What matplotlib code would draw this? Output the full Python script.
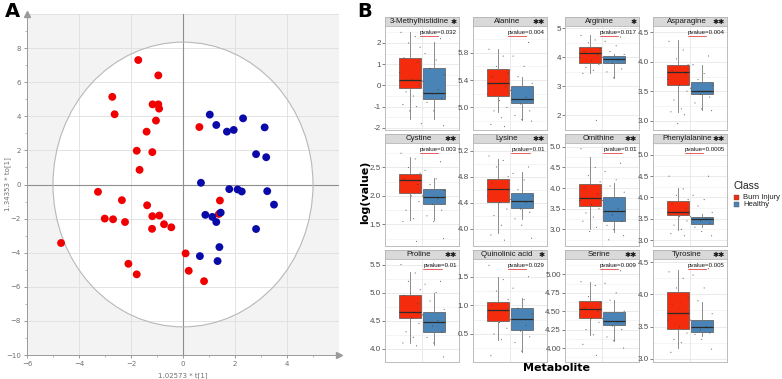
import numpy as np
import matplotlib
matplotlib.use("Agg")
import matplotlib.pyplot as plt
from matplotlib.patches import Ellipse, Rectangle
from matplotlib.lines import Line2D

W, H = 782, 379

# ---- panel A: OPLS-DA scores (t[1], to[1])
burn_t1 = [-1.72, -0.95, -2.72, -2.63, -1.17, -0.95, -0.92, -1.04, -1.40, -1.78, -1.18, -1.67, 0.63,
           -3.27, -2.35, -1.38, -3.01, -2.69, -2.23, -1.18, -0.91, -1.19, -0.73, -0.45, -4.69,
           -2.10, -1.78, 0.10, 0.22, 0.81, 1.42, 1.38]
burn_to1 = [7.3, 6.4, 5.14, 4.12, 4.7, 4.7, 4.45, 3.75, 3.1, 1.98, 1.9, 0.86, 3.37,
            -0.43, -0.92, -1.22, -2.0, -2.04, -2.2, -1.86, -1.82, -2.6, -2.33, -2.51, -3.43,
            -4.65, -5.27, -4.04, -5.06, -5.67, -0.94, -1.73]
healthy_t1 = [1.03, 1.28, 1.69, 1.95, 2.31, 3.14, 2.81, 3.2, 0.69, 1.78, 2.1, 2.26, 3.24, 3.5,
              0.86, 1.13, 1.28, 1.45, 2.81, 1.4, 1.33, 0.65]
healthy_to1 = [4.1, 3.49, 3.1, 3.2, 3.88, 3.35, 1.78, 1.6, 0.1, -0.27, -0.29, -0.41, -0.39, -1.18,
               -1.78, -1.9, -2.2, -1.65, -2.61, -3.67, -4.49, -4.2]

# ---- panel B: boxplots per metabolite
metabolites = ['3-Methylhistidine', 'Alanine', 'Arginine', 'Asparagine',
               'Cystine', 'Lysine', 'Ornithine', 'Phenylalanine',
               'Proline', 'Quinolinic acid', 'Serine', 'Tyrosine']
pvalues = ['0.032', '0.004', '0.017', '0.004', '0.003', '0.01', '0.01', '0.0005',
           '0.01', '0.029', '0.009', '0.005']
stars = [1, 2, 1, 2, 2, 2, 2, 2, 2, 1, 2, 2]
# whislo, q1, median, q3, whishi
burn_box = [(-1.6, -0.11, 0.27, 1.27, 2.5), (4.94, 5.16, 5.35, 5.56, 5.86),
            (3.45, 3.82, 4.14, 4.37, 4.77), (3.15, 3.60, 3.83, 3.94, 4.38),
            (1.58, 2.06, 2.28, 2.39, 2.69), (3.93, 4.41, 4.61, 4.77, 5.08),
            (3.0, 3.57, 3.77, 4.10, 4.76), (3.24, 3.58, 3.66, 3.92, 4.22),
            (4.10, 4.55, 4.66, 4.95, 5.37), (0.40, 0.72, 0.92, 1.06, 1.49),
            (4.18, 4.41, 4.53, 4.64, 4.90), (3.16, 3.46, 3.71, 4.03, 4.38)]
healthy_box = [(-1.6, -0.66, -0.34, 0.81, 2.05), (4.81, 5.07, 5.12, 5.31, 5.44),
               (3.3, 3.80, 3.94, 4.05, 4.12), (3.18, 3.46, 3.51, 3.66, 3.94),
               (1.57, 1.86, 1.98, 2.12, 2.32), (4.15, 4.32, 4.42, 4.55, 4.87),
               (2.94, 3.21, 3.45, 3.79, 4.13), (3.30, 3.38, 3.50, 3.55, 3.62),
               (4.06, 4.30, 4.48, 4.65, 5.0), (0.19, 0.57, 0.76, 0.95, 1.13),
               (4.10, 4.31, 4.37, 4.49, 4.65), (3.36, 3.41, 3.50, 3.60, 3.88)]
burn_pts = [
    [2.5, 2.3, 2.0, 1.8, 1.3, 1.1, 0.6, 0.3, 0.0, -0.3, -0.5, -0.9, -1.0, -1.2, -1.8],
    [5.85, 5.75, 5.6, 5.5, 5.45, 5.3, 5.2, 5.1, 5.0, 4.95, 4.85, 4.75, 4.72],
    [4.75, 4.6, 4.5, 4.3, 4.2, 4.1, 4.0, 3.9, 3.75, 3.65, 3.55, 3.45, 1.83],
    [4.35, 4.2, 4.05, 3.95, 3.85, 3.8, 3.7, 3.6, 3.5, 3.35, 3.2, 3.15, 3.1, 2.95],
    [2.75, 2.65, 2.5, 2.4, 2.3, 2.2, 2.1, 2.0, 1.9, 1.75, 1.6, 1.55, 1.2],
    [5.12, 5.05, 4.95, 4.8, 4.7, 4.6, 4.5, 4.4, 4.3, 4.2, 4.05, 3.9, 3.82],
    [4.95, 4.5, 4.3, 4.15, 4.0, 3.85, 3.7, 3.6, 3.5, 3.4, 3.3, 3.2, 3.05, 2.95],
    [4.5, 4.2, 4.05, 3.95, 3.85, 3.75, 3.65, 3.55, 3.45, 3.35, 3.25, 3.15, 3.1],
    [5.5, 5.35, 5.2, 5.05, 4.95, 4.8, 4.65, 4.55, 4.45, 4.3, 4.2, 4.1, 4.05],
    [1.7, 1.45, 1.25, 1.1, 1.0, 0.9, 0.8, 0.7, 0.6, 0.5, 0.4, 0.12],
    [4.9, 4.85, 4.7, 4.62, 4.55, 4.5, 4.45, 4.4, 4.35, 4.25, 4.18, 4.05, 3.9],
    [4.35, 4.25, 4.1, 3.95, 3.85, 3.7, 3.6, 3.5, 3.4, 3.3, 3.25, 3.1],
]
healthy_pts = [
    [2.2, 1.5, 1.2, 0.8, 0.5, 0.2, -0.2, -0.4, -0.6, -0.8, -1.2, -1.9],
    [5.95, 5.75, 5.6, 5.45, 5.35, 5.25, 5.15, 5.05, 4.95, 4.88, 4.82, 4.8],
    [4.7, 4.55, 4.4, 4.2, 4.1, 4.0, 3.9, 3.8, 3.6, 3.5, 3.3],
    [4.1, 3.95, 3.8, 3.7, 3.6, 3.55, 3.5, 3.45, 3.4, 3.3, 3.2, 3.17],
    [2.6, 2.45, 2.3, 2.2, 2.1, 2.0, 1.95, 1.85, 1.75, 1.65, 1.55, 1.25],
    [4.95, 4.85, 4.75, 4.6, 4.5, 4.45, 4.4, 4.3, 4.25, 4.15, 4.05, 3.85],
    [4.6, 4.4, 4.2, 4.05, 3.9, 3.7, 3.5, 3.35, 3.2, 3.1, 3.0, 2.85, 2.75],
    [4.5, 4.05, 3.95, 3.8, 3.65, 3.55, 3.5, 3.45, 3.4, 3.3, 3.2, 3.1],
    [5.2, 5.15, 5.0, 4.85, 4.7, 4.6, 4.5, 4.4, 4.3, 4.2, 4.1, 3.85],
    [1.5, 1.3, 1.1, 0.95, 0.85, 0.75, 0.65, 0.55, 0.45, 0.35, 0.2],
    [5.05, 4.88, 4.75, 4.65, 4.5, 4.4, 4.35, 4.3, 4.25, 4.15, 4.1, 4.0],
    [4.4, 4.3, 4.1, 3.9, 3.7, 3.6, 3.5, 3.45, 3.4, 3.38, 3.3, 3.15],
]
ylims = [(-2.1, 2.8), (4.67, 6.19), (1.5, 5.08), (2.84, 4.61),
         (1.12, 2.93), (3.73, 5.32), (2.6, 5.09), (2.86, 5.28),
         (3.76, 5.6), (0.01, 1.81), (3.81, 5.21), (2.95, 4.55)]
yticks = [[-2, -1, 0, 1, 2], [5.0, 5.4, 5.8], [2, 3, 4, 5], [3.0, 3.5, 4.0, 4.5],
          [1.5, 2.0, 2.5], [4.0, 4.4, 4.8, 5.2], [3.0, 3.5, 4.0, 4.5, 5.0], [3.0, 3.5, 4.0, 4.5, 5.0],
          [4.0, 4.5, 5.0, 5.5], [0.5, 1.0, 1.5], [4.00, 4.25, 4.50, 4.75, 5.00], [3.0, 3.5, 4.0, 4.5]]
ytick_fmt = ['%g', '%.1f', '%g', '%.1f', '%.1f', '%.1f', '%.1f', '%.1f', '%.1f', '%.1f', '%.2f', '%.1f']

red = '#F42B0C'
blue = '#4A84B6'
nfam = ['Liberation Sans', 'DejaVu Sans']

fig = plt.figure(figsize=(W / 100, H / 100), dpi=100, facecolor='white')


def px_axes(x0, y0, x1, y1):
    return fig.add_axes([x0 / W, 1 - y1 / H, (x1 - x0) / W, (y1 - y0) / H])


# ================= panel A =================
ax = px_axes(27, 14, 339, 355)
ax.set_xlim(-6, 6)
ax.set_ylim(-10, 10)
ax.set_facecolor('#f3f3f3')
ax.add_patch(Ellipse((0, 0), 10.0, 16.7, facecolor='white', edgecolor='none', zorder=0.5))
for v in range(-4, 7, 2):
    ax.axvline(v, color='#dedede', lw=0.6, zorder=1)
for v in range(-8, 11, 2):
    ax.axhline(v, color='#dedede', lw=0.6, zorder=1)
ax.axhline(0, color='#8f8f8f', lw=0.8, zorder=1.5)
ax.axvline(0, color='#8f8f8f', lw=0.8, zorder=1.5)
ax.add_patch(Ellipse((0, 0), 10.0, 16.7, fill=False, edgecolor='#b8b8b8', lw=0.8, zorder=2))
ax.scatter(burn_t1, burn_to1, s=32, color='#F00000', edgecolors='none', zorder=3)
ax.scatter(healthy_t1, healthy_to1, s=32, color='#0A0AA8', edgecolors='none', zorder=3)
for s in ['top', 'right']:
    ax.spines[s].set_visible(False)
for s in ['left', 'bottom']:
    ax.spines[s].set_color('#9a9a9a')
    ax.spines[s].set_linewidth(0.7)
ax.plot([1], [0], marker='>', ms=4, color='#9a9a9a', transform=ax.transAxes, clip_on=False)
ax.plot([0], [1], marker='^', ms=4, color='#9a9a9a', transform=ax.transAxes, clip_on=False)
ax.set_xticks(range(-6, 5, 2))
ax.set_yticks(range(-10, 9, 2))
ax.set_xticks(range(-5, 6, 2), minor=True)
ax.set_yticks(range(-9, 10, 2), minor=True)
ax.tick_params(labelsize=5, colors='#707070', length=2.5, width=0.5, pad=2)
ax.tick_params(which='minor', length=1.5, width=0.5, colors='#9a9a9a')
ax.set_xlabel('1.02573 * t[1]', fontsize=5, color='#707070')
ax.set_ylabel('1.34353 * to[1]', fontsize=5, color='#707070')
ax.xaxis.set_label_coords(0.5, -0.05)
ax.yaxis.set_label_coords(-0.052, 0.5)

fig.text(5 / W, 1 - 2 / H, 'A', fontsize=14, fontweight='bold', va='top', ha='left')
fig.text(357 / W, 1 - 2 / H, 'B', fontsize=14, fontweight='bold', va='top', ha='left')

# ================= panel B =================
col_left = [385, 473, 565, 653]
row_top = [17, 134, 250]
row_bottom = [130, 246, 362]
pw = 74
strip_h = 9
jit_r = [-0.15, 0.08, -0.03, 0.16, -0.1, 0.12, -0.17, 0.02, 0.14, -0.07, 0.05, -0.12, 0.1, -0.01, 0.18]
jit_h = [0.11, -0.14, 0.04, -0.06, 0.17, -0.18, 0.07, -0.02, 0.13, -0.11, 0.0, 0.16, -0.08, 0.09]

fig.canvas.draw()
renderer = fig.canvas.get_renderer()

for i, name in enumerate(metabolites):
    r, c = divmod(i, 4)
    x0 = col_left[c]
    x1 = x0 + pw
    st = row_top[r]

    sax = px_axes(x0, st, x1, st + strip_h)
    sax.set_facecolor('#d9d9d9')
    sax.set_xticks([])
    sax.set_yticks([])
    for s in sax.spines.values():
        s.set_color('#b3b3b3')
        s.set_linewidth(0.6)
    sax.text(0.46, 0.45, name, ha='center', va='center', fontsize=5.7, color='#1a1a1a',
             family=nfam, transform=sax.transAxes)
    sax.text(0.97, 0.45, '\u2731' * stars[i], ha='right', va='center', fontsize=5.3,
             color='#111111', transform=sax.transAxes)

    ax = px_axes(x0, st + strip_h, x1, row_bottom[r])
    ax.set_xlim(0.4, 1.6)
    ax.set_ylim(*ylims[i])
    tk = yticks[i]
    step = tk[1] - tk[0]
    for v in tk:
        ax.axhline(v, color='#e8e8e8', lw=0.6, zorder=0)
        ax.axhline(v + step / 2, color='#f2f2f2', lw=0.4, zorder=0)
        ax.axhline(v - step / 2, color='#f2f2f2', lw=0.4, zorder=0)
    ax.axvline(1.0, color='#e8e8e8', lw=0.6, zorder=0)

    stats = []
    for b in (burn_box[i], healthy_box[i]):
        stats.append({'whislo': b[0], 'q1': b[1], 'med': b[2], 'q3': b[3], 'whishi': b[4], 'fliers': []})
    bp = ax.bxp(stats, positions=[0.81, 1.19], widths=0.36, patch_artist=True, showfliers=False,
                showcaps=False,
                boxprops=dict(edgecolor='#555555', linewidth=0.5),
                medianprops=dict(color='#2b2b2b', linewidth=0.9),
                whiskerprops=dict(color='#7a7a7a', linewidth=0.6))
    bp['boxes'][0].set_facecolor(red)
    bp['boxes'][1].set_facecolor(blue)

    rp = burn_pts[i]
    hp = healthy_pts[i]
    ax.scatter([0.81 + jit_r[k % len(jit_r)] for k in range(len(rp))], rp, s=0.7,
               color='#3a3a3a', alpha=0.75, edgecolors='none', zorder=4)
    ax.scatter([1.19 + jit_h[k % len(jit_h)] for k in range(len(hp))], hp, s=0.7,
               color='#3a3a3a', alpha=0.75, edgecolors='none', zorder=4)

    ax.set_xticks([])
    ax.set_yticks(tk)
    ax.set_yticklabels([ytick_fmt[i] % v for v in tk], family=nfam)
    ax.tick_params(axis='y', labelsize=5.8, colors='#4d4d4d', length=2, width=0.5, pad=1)
    for s in ax.spines.values():
        s.set_color('#b3b3b3')
        s.set_linewidth(0.6)

    head = 'pvalue'
    t = ax.text(0.97, 0.96, head + '=' + pvalues[i], ha='right', va='top', fontsize=4.4,
                color='#111111', family=nfam, transform=ax.transAxes, zorder=5)
    bb = t.get_window_extent(renderer)
    frac = len(head) / (len(head) + 1 + len(pvalues[i]))
    ux1 = bb.x0 + (bb.x1 - bb.x0) * frac
    fig.add_artist(Line2D([bb.x0, ux1], [bb.y0 - 0.5, bb.y0 - 0.5], color='#e02020', lw=0.5,
                          transform=None))

fig.text(365 / W, 1 - 192 / H, 'log(value)', rotation=90, fontsize=8, fontweight='bold',
         ha='center', va='center')
fig.text(556 / W, 1 - 368 / H, 'Metabolite', fontsize=8, fontweight='bold', ha='center', va='center')

# legend
fig.text(733 / W, 1 - 186 / H, 'Class', fontsize=7.5, color='#222222', ha='left', va='center',
         family=nfam)
fig.patches.append(Rectangle((734 / W, 1 - 200 / H), 5 / W, 5 / H, facecolor=red,
                             edgecolor='#555555', lw=0.3, transform=fig.transFigure, figure=fig))
fig.patches.append(Rectangle((734 / W, 1 - 207 / H), 5 / W, 5 / H, facecolor=blue,
                             edgecolor='#555555', lw=0.3, transform=fig.transFigure, figure=fig))
fig.text(743 / W, 1 - 197.5 / H, 'Burn Injury', fontsize=5.5, color='#222222', ha='left', va='center',
         family=nfam)
fig.text(743 / W, 1 - 204.5 / H, 'Healthy', fontsize=5.5, color='#222222', ha='left', va='center',
         family=nfam)

fig.savefig('out.png', dpi=100, facecolor='white')
